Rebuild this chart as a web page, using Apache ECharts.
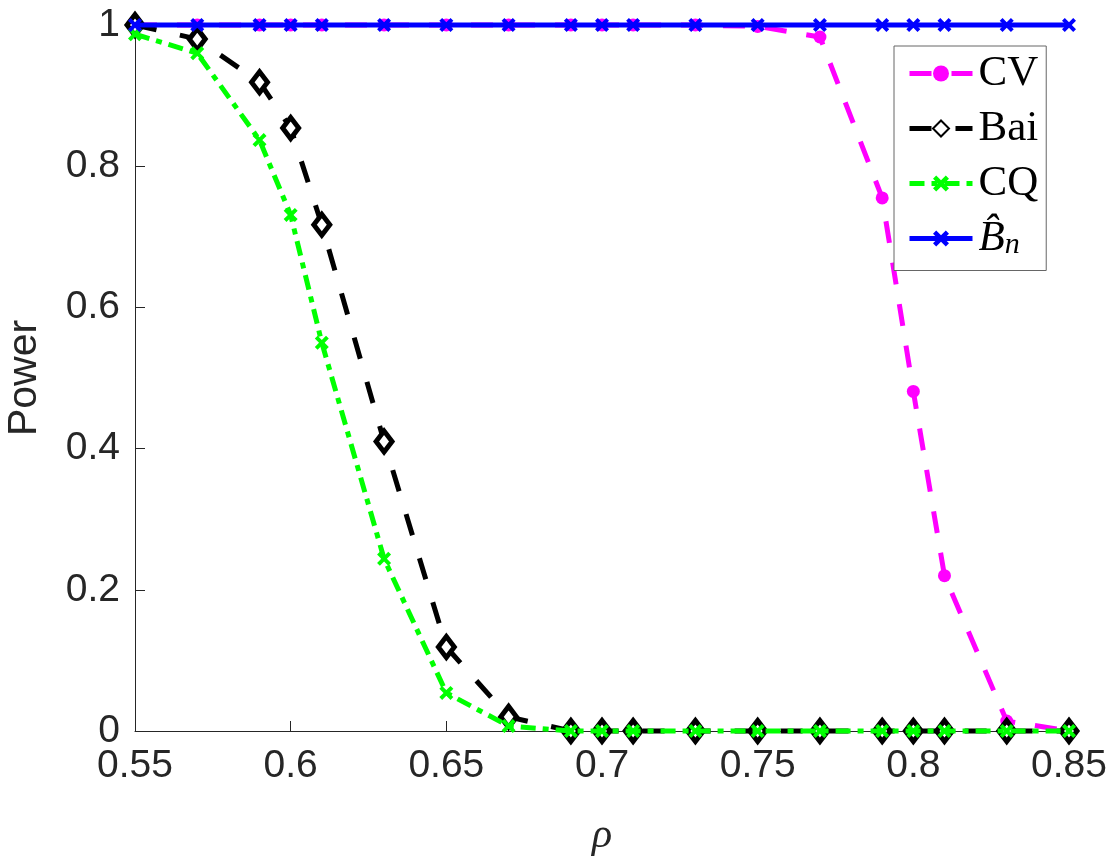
<!DOCTYPE html>
<html>
<head>
<meta charset="utf-8">
<script src="https://cdn.jsdelivr.net/npm/echarts@6/dist/echarts.min.js"></script>
<style>
  html, body { margin: 0; padding: 0; background: #fff; }
  #chart { width: 1107px; height: 857px; }
</style>
</head>
<body>
<div id="chart"></div>
<script>
// rho values where power was computed
const rho = [0.55, 0.57, 0.59, 0.60, 0.61, 0.63, 0.65, 0.67, 0.69, 0.70, 0.71, 0.73, 0.75, 0.77, 0.79, 0.80, 0.81, 0.83, 0.85];

// empirical power per test
const powerCV  = [1, 1, 1, 1, 1, 1, 1, 1, 1, 1, 1, 1, 0.998, 0.983, 0.755, 0.481, 0.22, 0.014, 0];
const powerBai = [1, 0.98, 0.919, 0.854, 0.717, 0.41, 0.119, 0.02, 0, 0, 0, 0, 0, 0, 0, 0, 0, 0, 0];
const powerCQ  = [0.987, 0.96, 0.837, 0.731, 0.55, 0.244, 0.054, 0.007, 0, 0, 0, 0, 0, 0, 0, 0, 0, 0, 0];
const powerBn  = [1, 1, 1, 1, 1, 1, 1, 1, 1, 1, 1, 1, 1, 1, 1, 1, 1, 1, 1];

const xTicks = [0.55, 0.6, 0.65, 0.7, 0.75, 0.8, 0.85];
const yTicks = [0, 0.2, 0.4, 0.6, 0.8, 1];

const pairs = (ys) => rho.map((x, i) => [x, ys[i]]);

// chunky "x" marker like matlab's
const xMark = "path://M2,0 L5,3 L8,0 L10,2 L7,5 L10,8 L8,10 L5,7 L2,10 L0,8 L3,5 L0,2 Z";

const axisColor = "#262626";
const labelFont = "Liberation Sans";

const chart = echarts.init(document.getElementById("chart"), null, { renderer: "canvas" });

const option = {
  animation: false,
  backgroundColor: "#fff",
  grid: { left: 135, right: 38, top: 25, bottom: 126, containLabel: false, outerBoundsMode: "none" },
  xAxis: {
    type: "value",
    min: 0.55,
    max: 0.85,
    interval: 0.05,
    name: "ρ",
    nameLocation: "middle",
    nameGap: 84,
    nameTextStyle: { fontFamily: "Liberation Serif", fontStyle: "italic", fontSize: 42, color: axisColor },
    axisLine: { show: true, onZero: false, lineStyle: { color: axisColor, width: 1 } },
    axisTick: { show: true, inside: true, length: 10, lineStyle: { color: axisColor } },
    axisLabel: {
      margin: 16,
      fontFamily: labelFont,
      fontSize: 39,
      color: axisColor,
      formatter: (v) => {
        const hit = xTicks.find((t) => Math.abs(t - v) < 1e-6);
        return hit === undefined ? "" : String(hit);
      },
    },
    splitLine: { show: false },
  },
  yAxis: {
    type: "value",
    min: 0,
    max: 1,
    interval: 0.2,
    name: "Power",
    nameLocation: "middle",
    nameGap: 90,
    nameRotate: 90,
    nameTextStyle: { fontFamily: labelFont, fontSize: 41, color: axisColor },
    axisLine: { show: true, lineStyle: { color: axisColor, width: 1 } },
    axisTick: { show: true, inside: true, length: 10, lineStyle: { color: axisColor } },
    axisLabel: {
      margin: 15,
      fontFamily: labelFont,
      fontSize: 39,
      color: axisColor,
      formatter: (v) => {
        const hit = yTicks.find((t) => Math.abs(t - v) < 1e-6);
        return hit === undefined ? "" : String(hit);
      },
    },
    splitLine: { show: false },
  },
  legend: {
    orient: "vertical",
    left: 894,
    top: 46,
    padding: [6, 8, 10, 13],
    itemGap: 12,
    itemWidth: 63,
    itemHeight: 20,
    backgroundColor: "#fff",
    borderColor: "#666",
    borderWidth: 1,
    borderRadius: 0,
    lineStyle: { width: 5 },
    data: ["CV", "Bai", "CQ", "Bn"],
    formatter: (name) => (name === "Bn" ? "{b|B\u0302}{n|n}" : name),
    textStyle: {
      fontFamily: "Liberation Serif",
      fontSize: 43,
      color: "#000",
      padding: [0, 0, 0, 1],
      rich: {
        b: { fontFamily: "Liberation Serif", fontStyle: "italic", fontSize: 43, color: "#000" },
        n: { fontFamily: "Liberation Serif", fontStyle: "italic", fontSize: 30, color: "#000", verticalAlign: "bottom", padding: [14, 0, 0, 0] },
      },
    },
  },
  series: [
    {
      name: "CV",
      type: "line",
      data: pairs(powerCV),
      clip: false,
      symbol: "circle",
      symbolSize: 13,
      itemStyle: { color: "#ff00ff" },
      lineStyle: { color: "#ff00ff", width: 5, type: [22, 20] },
      z: 2,
    },
    {
      name: "Bai",
      type: "line",
      data: pairs(powerBai),
      clip: false,
      symbol: "diamond",
      symbolSize: [16, 21],
      showAllSymbol: true,
      itemStyle: { color: "#fff", borderColor: "#000", borderWidth: 5 },
      lineStyle: { color: "#000", width: 5, type: [22, 24] },
      z: 3,
    },
    {
      name: "CQ",
      type: "line",
      data: pairs(powerCQ),
      clip: false,
      symbol: xMark,
      symbolSize: 14,
      showAllSymbol: true,
      itemStyle: { color: "#00ff00" },
      lineStyle: { color: "#00ff00", width: 5, type: [15, 7, 6, 7] },
      z: 4,
    },
    {
      name: "Bn",
      type: "line",
      data: pairs(powerBn),
      clip: false,
      symbol: xMark,
      symbolSize: 14,
      showAllSymbol: true,
      itemStyle: { color: "#0000ff" },
      lineStyle: { color: "#0000ff", width: 5, type: "solid" },
      z: 5,
    },
  ],
};

chart.setOption(option);
window.addEventListener("resize", chart.resize);
</script>
</body>
</html>
